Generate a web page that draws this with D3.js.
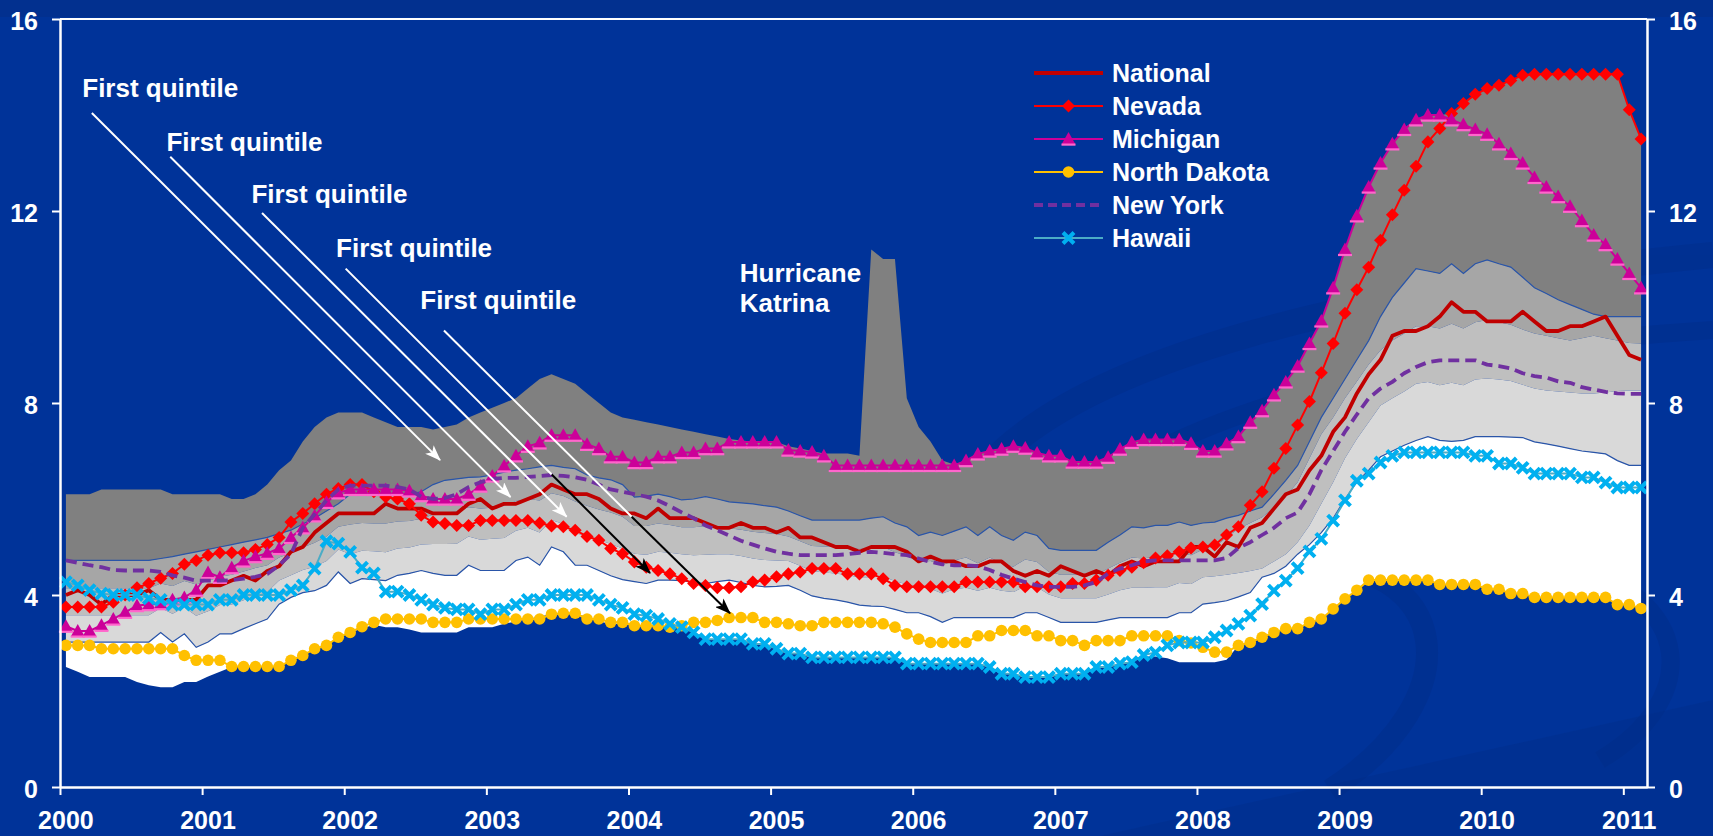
<!DOCTYPE html>
<html>
<head>
<meta charset="utf-8">
<script src="https://cdn.jsdelivr.net/npm/d3@7/dist/d3.min.js"></script>
<style>
  html, body { margin: 0; padding: 0; background: #003399; }
  svg { display: block; }
  text { font-family: "Liberation Sans", Arial, sans-serif; font-weight: bold; }
</style>
</head>
<body>
<div id="chart"></div>
<script>
// monthly data, Jan 2000 .. Feb 2011 (unemployment rate, %)
const years = ["2000","2001","2002","2003","2004","2005","2006","2007","2008","2009","2010","2011"];
const yTicks = [0, 4, 8, 12, 16];

const national = [
  4.0,4.1,4.0,3.8,4.0,4.0,4.0,4.1,3.9,3.9,3.9,3.9,
  4.2,4.2,4.3,4.4,4.3,4.5,4.6,4.9,5.0,5.3,5.5,5.7,
  5.7,5.7,5.7,5.9,5.8,5.8,5.8,5.7,5.7,5.7,5.9,6.0,
  5.8,5.9,5.9,6.0,6.1,6.3,6.2,6.1,6.1,6.0,5.8,5.7,
  5.7,5.6,5.8,5.6,5.6,5.6,5.5,5.4,5.4,5.5,5.4,5.4,
  5.3,5.4,5.2,5.2,5.1,5.0,5.0,4.9,5.0,5.0,5.0,4.9,
  4.7,4.8,4.7,4.7,4.6,4.6,4.7,4.7,4.5,4.4,4.5,4.4,
  4.6,4.5,4.4,4.5,4.4,4.6,4.7,4.6,4.7,4.7,4.7,5.0,
  5.0,4.8,5.1,5.0,5.4,5.5,5.8,6.1,6.2,6.6,6.9,7.4,
  7.7,8.2,8.6,8.9,9.4,9.5,9.5,9.6,9.8,10.1,9.9,9.9,
  9.7,9.7,9.7,9.9,9.7,9.5,9.5,9.6,9.6,9.7,9.8,9.4,
  9.0,8.9];
const nevada = [
  3.75,3.75,3.75,3.75,3.85,4.0,4.15,4.24,4.35,4.45,4.64,4.72,
  4.83,4.88,4.88,4.88,4.95,5.05,5.2,5.52,5.7,5.9,6.1,6.22,
  6.3,6.3,6.15,6.04,6.0,5.9,5.66,5.52,5.49,5.45,5.45,5.55,
  5.55,5.55,5.55,5.55,5.5,5.44,5.42,5.35,5.22,5.14,4.97,4.86,
  4.69,4.58,4.51,4.44,4.34,4.24,4.2,4.15,4.15,4.17,4.27,4.31,
  4.38,4.44,4.48,4.55,4.55,4.55,4.44,4.44,4.44,4.34,4.2,4.17,
  4.17,4.17,4.17,4.17,4.27,4.27,4.27,4.27,4.27,4.17,4.17,4.17,
  4.17,4.24,4.24,4.31,4.41,4.51,4.58,4.67,4.77,4.82,4.9,4.98,
  5.0,5.04,5.25,5.42,5.87,6.15,6.64,7.05,7.54,8.03,8.63,9.24,
  9.87,10.36,10.83,11.39,11.92,12.43,12.93,13.44,13.72,14.03,14.24,14.43,
  14.55,14.62,14.72,14.83,14.85,14.85,14.85,14.85,14.85,14.85,14.85,14.85,
  14.11,13.5];
const michigan = [
  3.35,3.25,3.25,3.37,3.5,3.64,3.78,3.8,3.82,3.9,3.95,4.1,
  4.47,4.37,4.57,4.71,4.8,4.87,4.97,5.2,5.4,5.65,5.93,6.13,
  6.2,6.2,6.2,6.2,6.2,6.17,6.07,6.0,6.0,6.0,6.1,6.27,
  6.48,6.69,6.9,7.1,7.17,7.33,7.33,7.33,7.14,7.05,6.88,6.88,
  6.76,6.76,6.88,6.88,6.97,6.97,7.05,7.05,7.19,7.19,7.19,7.19,
  7.19,7.02,7.0,6.98,6.9,6.7,6.7,6.7,6.7,6.7,6.7,6.7,
  6.7,6.7,6.7,6.7,6.8,6.94,7.0,7.04,7.1,7.06,6.96,6.9,
  6.9,6.77,6.77,6.77,6.87,7.04,7.18,7.24,7.24,7.24,7.24,7.16,
  7.0,7.0,7.15,7.3,7.6,7.84,8.17,8.44,8.77,9.24,9.71,10.4,
  11.2,11.9,12.5,13.0,13.4,13.7,13.9,14.0,14.0,13.9,13.8,13.7,
  13.6,13.4,13.2,13.0,12.7,12.5,12.3,12.1,11.8,11.5,11.3,11.0,
  10.7,10.4];
const northDakota = [
  2.95,2.95,2.95,2.88,2.88,2.88,2.88,2.88,2.88,2.88,2.74,2.64,
  2.64,2.64,2.51,2.51,2.51,2.51,2.51,2.64,2.74,2.88,2.95,3.12,
  3.22,3.34,3.43,3.5,3.5,3.5,3.5,3.43,3.43,3.43,3.5,3.5,
  3.5,3.5,3.5,3.5,3.5,3.6,3.62,3.62,3.5,3.5,3.43,3.43,
  3.36,3.36,3.36,3.33,3.36,3.43,3.43,3.47,3.53,3.53,3.53,3.43,
  3.43,3.4,3.36,3.36,3.43,3.43,3.43,3.43,3.43,3.4,3.33,3.19,
  3.08,3.01,3.01,3.01,3.01,3.15,3.15,3.26,3.26,3.26,3.15,3.15,
  3.05,3.05,2.95,3.05,3.05,3.05,3.15,3.15,3.15,3.15,3.05,3.0,
  2.91,2.81,2.81,2.95,3.01,3.12,3.22,3.3,3.3,3.43,3.5,3.71,
  3.92,4.1,4.31,4.31,4.31,4.31,4.31,4.31,4.22,4.22,4.22,4.22,
  4.12,4.12,4.03,4.03,3.95,3.95,3.95,3.95,3.95,3.95,3.95,3.8,
  3.8,3.72];
const newYork = [
  4.72,4.67,4.62,4.58,4.52,4.51,4.51,4.51,4.48,4.41,4.36,4.3,
  4.3,4.3,4.31,4.34,4.38,4.44,4.62,4.85,5.4,5.68,5.97,6.2,
  6.28,6.28,6.28,6.28,6.25,6.2,6.05,6.0,6.02,6.1,6.25,6.35,
  6.42,6.44,6.44,6.46,6.48,6.5,6.48,6.45,6.4,6.3,6.2,6.15,
  6.1,6.05,5.97,5.85,5.72,5.6,5.45,5.35,5.24,5.13,5.05,4.97,
  4.9,4.86,4.83,4.83,4.83,4.83,4.85,4.88,4.9,4.88,4.85,4.83,
  4.76,4.69,4.64,4.62,4.62,4.6,4.52,4.42,4.34,4.27,4.2,4.17,
  4.17,4.17,4.2,4.27,4.45,4.55,4.62,4.7,4.72,4.72,4.72,4.72,
  4.72,4.72,4.77,4.98,5.1,5.25,5.4,5.6,5.72,6.1,6.6,7.0,
  7.4,7.76,8.1,8.3,8.44,8.62,8.75,8.85,8.89,8.89,8.89,8.89,
  8.8,8.77,8.72,8.62,8.56,8.53,8.45,8.42,8.33,8.28,8.23,8.2,
  8.19,8.19];
const hawaii = [
  4.27,4.2,4.1,4.03,4.0,4.0,4.0,3.93,3.9,3.8,3.8,3.8,
  3.8,3.9,3.9,4.0,4.0,4.0,4.0,4.1,4.2,4.55,5.12,5.07,
  4.9,4.57,4.45,4.07,4.07,4.0,3.9,3.8,3.73,3.7,3.7,3.6,
  3.7,3.7,3.8,3.9,3.9,4.0,4.0,4.0,4.0,3.9,3.8,3.73,
  3.6,3.57,3.5,3.4,3.33,3.22,3.08,3.08,3.08,3.08,2.98,2.98,
  2.88,2.78,2.78,2.7,2.7,2.7,2.7,2.7,2.7,2.7,2.7,2.57,
  2.57,2.57,2.57,2.57,2.57,2.57,2.5,2.36,2.36,2.29,2.29,2.29,
  2.36,2.36,2.36,2.5,2.5,2.57,2.6,2.75,2.8,2.95,3.01,3.01,
  3.01,3.12,3.26,3.4,3.57,3.81,4.09,4.3,4.56,4.91,5.17,5.55,
  5.97,6.38,6.53,6.76,6.9,6.97,6.97,6.97,6.97,6.97,6.97,6.9,
  6.9,6.74,6.74,6.65,6.53,6.53,6.53,6.53,6.45,6.45,6.34,6.24,
  6.24,6.24];

// distribution of state rates: maximum, quintile bounds, minimum
const stateMax = [
  6.1,6.1,6.1,6.2,6.2,6.2,6.2,6.2,6.2,6.1,6.1,6.1,
  6.1,6.1,6.0,6.0,6.1,6.3,6.6,6.8,7.2,7.5,7.7,7.8,
  7.8,7.8,7.7,7.6,7.5,7.5,7.5,7.45,7.5,7.55,7.7,7.8,
  7.9,8.0,8.1,8.3,8.5,8.6,8.5,8.4,8.2,8.0,7.8,7.7,
  7.65,7.6,7.55,7.5,7.45,7.4,7.35,7.3,7.25,7.22,7.2,7.2,
  7.19,7.1,7.05,7.0,6.95,6.95,6.95,6.9,11.2,11.0,11.0,8.1,
  7.5,7.2,6.8,6.72,6.8,6.94,7.0,7.04,7.1,7.06,6.96,6.9,
  6.9,6.77,6.77,6.77,6.87,7.04,7.18,7.24,7.24,7.24,7.24,7.16,
  7.0,7.0,7.15,7.3,7.6,7.84,8.17,8.44,8.77,9.24,9.71,10.4,
  11.2,11.9,12.5,13.0,13.4,13.7,13.9,14.0,14.0,14.03,14.24,14.43,
  14.55,14.62,14.72,14.83,14.85,14.85,14.85,14.85,14.85,14.85,14.85,14.85,
  14.11,13.5];
const quint4 = [
  4.72,4.72,4.72,4.72,4.72,4.72,4.72,4.72,4.76,4.8,4.85,4.9,
  4.95,5.0,5.05,5.1,5.15,5.2,5.28,5.35,5.48,5.6,5.75,5.9,
  6.1,6.1,6.1,6.1,6.1,6.1,6.15,6.3,6.39,6.42,6.45,6.46,
  6.5,6.56,6.6,6.63,6.67,6.7,6.66,6.63,6.5,6.44,6.4,6.3,
  6.04,6.06,6.1,6.05,5.98,6.0,6.05,6.0,5.94,5.92,5.9,5.86,
  5.83,5.75,5.65,5.56,5.56,5.56,5.56,5.56,5.6,5.63,5.5,5.42,
  5.24,5.31,5.24,5.33,5.42,5.24,5.42,5.24,5.14,5.31,5.24,4.97,
  4.93,4.93,4.93,4.93,5.1,5.25,5.42,5.4,5.45,5.45,5.52,5.45,
  5.5,5.52,5.6,5.66,5.75,5.83,6.1,6.39,6.7,7.2,7.7,8.1,
  8.5,8.9,9.3,9.8,10.2,10.5,10.8,10.75,10.7,10.9,10.7,10.9,
  10.98,10.9,10.83,10.62,10.4,10.28,10.15,10.05,9.95,9.85,9.8,9.8,
  9.8,9.8];
const quint3 = [
  4.14,4.14,4.14,4.14,4.14,4.14,4.14,4.14,4.24,4.19,4.29,4.22,
  4.29,4.38,4.42,4.49,4.56,4.62,4.78,4.87,4.99,5.09,5.22,5.42,
  5.47,5.5,5.49,5.49,5.53,5.54,5.59,5.67,5.72,5.74,5.83,5.8,
  5.82,5.86,5.96,6.0,5.97,6.12,6.06,5.95,5.86,5.78,5.72,5.63,
  5.44,5.44,5.49,5.46,5.41,5.41,5.43,5.42,5.39,5.36,5.32,5.29,
  5.27,5.22,5.12,5.02,5.01,5.0,4.98,4.96,4.98,5.0,4.89,4.81,
  4.69,4.71,4.62,4.72,4.78,4.66,4.78,4.66,4.59,4.74,4.69,4.48,
  4.42,4.42,4.42,4.42,4.55,4.67,4.78,4.76,4.8,4.8,4.88,4.83,
  4.95,5.0,5.2,5.38,5.5,5.62,5.82,6.05,6.35,6.85,7.35,7.7,
  8.1,8.45,8.8,9.1,9.3,9.45,9.6,9.6,9.55,9.65,9.55,9.68,
  9.73,9.68,9.63,9.53,9.45,9.4,9.35,9.3,9.35,9.4,9.35,9.3,
  9.25,9.24];
const quint2 = [
  3.58,3.58,3.58,3.58,3.58,3.58,3.58,3.58,3.73,3.61,3.74,3.57,
  3.66,3.79,3.8,3.89,3.98,4.06,4.3,4.41,4.52,4.59,4.71,4.95,
  4.85,4.92,4.91,4.89,4.97,4.99,5.05,5.06,5.06,5.07,5.22,5.15,
  5.17,5.19,5.34,5.4,5.3,5.56,5.48,5.28,5.24,5.15,5.06,4.97,
  4.86,4.84,4.9,4.88,4.85,4.83,4.84,4.85,4.85,4.81,4.76,4.73,
  4.72,4.71,4.61,4.5,4.47,4.45,4.41,4.37,4.37,4.38,4.29,4.22,
  4.16,4.13,4.03,4.12,4.15,4.09,4.15,4.09,4.06,4.18,4.16,4.01,
  3.93,3.93,3.93,3.93,4.01,4.1,4.15,4.15,4.16,4.16,4.25,4.23,
  4.37,4.39,4.42,4.46,4.5,4.55,4.7,4.85,5.1,5.45,5.9,6.35,
  6.85,7.25,7.6,7.95,8.1,8.24,8.4,8.44,8.37,8.42,8.37,8.49,
  8.51,8.49,8.46,8.38,8.3,8.26,8.24,8.22,8.2,8.2,8.22,8.25,
  8.26,8.26];
const quint1 = [
  3.02,3.02,3.02,3.02,3.02,3.02,3.02,3.02,3.22,3.02,3.19,2.91,
  3.02,3.19,3.19,3.3,3.4,3.5,3.81,3.95,4.05,4.09,4.2,4.48,
  4.24,4.34,4.32,4.3,4.41,4.45,4.51,4.45,4.41,4.41,4.62,4.51,
  4.51,4.51,4.72,4.79,4.62,5.0,4.9,4.62,4.62,4.51,4.4,4.32,
  4.28,4.24,4.31,4.31,4.3,4.26,4.24,4.28,4.31,4.26,4.2,4.17,
  4.18,4.2,4.1,3.98,3.93,3.9,3.85,3.79,3.77,3.76,3.7,3.63,
  3.63,3.55,3.43,3.53,3.53,3.53,3.53,3.53,3.53,3.63,3.63,3.53,
  3.43,3.43,3.43,3.43,3.48,3.53,3.53,3.53,3.53,3.53,3.63,3.63,
  3.81,3.84,3.88,3.96,4.05,4.37,4.45,4.6,4.85,5.05,5.3,5.6,
  6.0,6.35,6.6,6.88,7.0,7.12,7.22,7.3,7.22,7.2,7.22,7.3,
  7.3,7.3,7.29,7.28,7.19,7.15,7.1,7.05,7.0,6.97,6.94,6.8,
  6.7,6.7];
const stateMin = [
  2.5,2.4,2.29,2.29,2.29,2.29,2.19,2.12,2.08,2.08,2.19,2.19,
  2.3,2.4,2.5,2.5,2.5,2.5,2.5,2.64,2.74,2.88,2.95,3.12,
  3.22,3.3,3.38,3.33,3.33,3.28,3.22,3.22,3.22,3.22,3.33,3.33,
  3.33,3.4,3.45,3.5,3.55,3.6,3.6,3.6,3.55,3.45,3.4,3.4,
  3.36,3.36,3.36,3.33,3.33,3.22,3.08,3.08,3.08,3.08,2.98,2.98,
  2.88,2.78,2.78,2.7,2.7,2.7,2.7,2.7,2.7,2.7,2.7,2.57,
  2.57,2.57,2.57,2.57,2.57,2.57,2.5,2.36,2.36,2.29,2.29,2.29,
  2.36,2.36,2.36,2.5,2.5,2.57,2.6,2.72,2.72,2.68,2.6,2.6,
  2.6,2.6,2.65,2.95,3.01,3.12,3.22,3.3,3.3,3.43,3.5,3.71,
  3.92,4.1,4.31,4.31,4.31,4.31,4.31,4.31,4.22,4.22,4.22,4.22,
  4.12,4.12,4.03,4.03,3.95,3.95,3.95,3.95,3.95,3.95,3.95,3.8,
  3.8,3.72];

// annotations, in (month index, rate)
const noteText = ["First quintile","First quintile","First quintile","First quintile","First quintile"];
const notePos = [[1.38,14.38],[8.49,13.26],[15.66,12.16],[22.81,11.04],[29.92,9.95]];
const arrows = [
  { from: [2.19,14.04], to: [31.59,6.81], color: "#fff", head: true },
  { from: [8.81,13.13], to: [37.54,6.04], color: "#fff", head: true },
  { from: [16.56,11.96], to: [42.28,5.63], color: "#fff", head: true },
  { from: [23.62,10.8], to: [41.02,6.51], color: "#fff", head: false },
  { from: [41.02,6.51], to: [49.32,4.46], color: "#000", head: true },
  { from: [31.92,9.51], to: [47.77,5.63], color: "#fff", head: false },
  { from: [47.77,5.63], to: [56.07,3.62], color: "#000", head: true }
];
const katrinaText = ["Hurricane", "Katrina"];
const katrinaPos = [56.9, 10.52];

var W = 1713, H = 836;
var padL = 60, padR = 1647, padT = 19, padB = 787;
var n = national.length;

var svg = d3.select("#chart").append("svg")
  .attr("width", W).attr("height", H);

// background + swooshes
svg.append("rect").attr("width", W).attr("height", H).attr("fill", "#003399");
svg.append("rect").attr("width", W).attr("height", 17).attr("fill", "#02308f");
var deco = svg.append("g").attr("fill", "none").attr("stroke", "#002c86").attr("opacity", 0.4);
deco.append("path").attr("d", "M985,470 C1080,360 1350,290 1713,255").attr("stroke-width", 26);
deco.append("path").attr("d", "M1060,520 C1150,420 1400,350 1713,330").attr("stroke-width", 18);
deco.append("path").attr("d", "M1290,560 C1460,560 1470,700 1330,790").attr("stroke-width", 22);
deco.append("path").attr("d", "M1560,560 C1700,600 1700,700 1600,760").attr("stroke-width", 18);
svg.append("path").attr("d", "M1100,836 L1713,700 L1713,836 Z").attr("fill", "#002c86").attr("opacity", 0.4);

var x = d3.scaleLinear().domain([-0.5, n - 0.5]).range([padL, padR]);
var y = d3.scaleLinear().domain([0, 16]).range([padB, padT]);

// quintile bands
var bands = [
  { hi: stateMax, lo: quint4, fill: "#808080" },
  { hi: quint4, lo: quint3, fill: "#a6a6a6" },
  { hi: quint3, lo: quint2, fill: "#bfbfbf" },
  { hi: quint2, lo: quint1, fill: "#d9d9d9" },
  { hi: quint1, lo: stateMin, fill: "#ffffff" }
];
var area = d3.area()
  .x(function (d, i) { return x(i); })
  .y0(function (d) { return y(d[0]); })
  .y1(function (d) { return y(d[1]); });
bands.forEach(function (b) {
  svg.append("path")
    .datum(b.lo.map(function (v, i) { return [v, b.hi[i]]; }))
    .attr("fill", b.fill)
    .attr("d", area);
});
var line = d3.line()
  .x(function (d, i) { return x(i); })
  .y(function (d) { return y(d); });
[quint4, quint1].forEach(function (q) {
  svg.append("path").datum(q).attr("fill", "none")
    .attr("stroke", "#2a55a8").attr("stroke-width", 1.2).attr("d", line);
});

// state and national series
var series = [
  { name: "National", data: national, color: "#c00000", width: 3.8, marker: null },
  { name: "Nevada", data: nevada, color: "#ff0000", width: 2, marker: "diamond", mcolor: "#ff0000" },
  { name: "Michigan", data: michigan, color: "#cc0099", width: 2, marker: "triangle", mcolor: "#cc0099" },
  { name: "North Dakota", data: northDakota, color: "#ffc000", width: 2, marker: "circle", mcolor: "#ffc000" },
  { name: "New York", data: newYork, color: "#7030a0", width: 3.8, dash: "11,6", marker: null },
  { name: "Hawaii", data: hawaii, color: "#4bacc6", width: 2, marker: "x", mcolor: "#00b0f0" }
];

function drawMarker(g, type, color) {
  if (type === "diamond") {
    g.append("rect").attr("x", -4.6).attr("y", -4.6).attr("width", 9.2).attr("height", 9.2)
      .attr("transform", "rotate(45)").attr("fill", color);
  } else if (type === "triangle") {
    g.append("path").attr("d", "M0,-7L7,5.5L-7,5.5Z").attr("fill", color);
    g.append("rect").attr("x", -7).attr("y", 4.5).attr("width", 14).attr("height", 2.2).attr("fill", "#ff66cc");
  } else if (type === "circle") {
    g.append("circle").attr("r", 5.8).attr("fill", color);
  } else if (type === "x") {
    g.append("path").attr("d", "M-5.5,-5.5L5.5,5.5M-5.5,5.5L5.5,-5.5")
      .attr("stroke", color).attr("stroke-width", 4).attr("fill", "none");
  }
}

series.forEach(function (s) {
  var p = svg.append("path").datum(s.data)
    .attr("fill", "none")
    .attr("stroke", s.color)
    .attr("stroke-width", s.width)
    .attr("stroke-linejoin", "round")
    .attr("d", line);
  if (s.dash) p.attr("stroke-dasharray", s.dash);
  if (s.marker) {
    svg.append("g").selectAll("g").data(s.data).enter().append("g")
      .attr("transform", function (d, i) { return "translate(" + x(i) + "," + y(d) + ")"; })
      .each(function () { drawMarker(d3.select(this), s.marker, s.mcolor); });
  }
});

// axes
var yearIdx = years.map(function (d, i) { return i * 12; });
var xAxis = d3.axisBottom(x).tickValues(yearIdx.map(function (i) { return i - 0.5; }))
  .tickFormat("").tickSize(8).tickSizeOuter(0);
var gx = svg.append("g").attr("transform", "translate(0," + padB + ")").call(xAxis);
gx.selectAll("line").attr("stroke", "#fff").attr("stroke-width", 2);
gx.select(".domain").attr("stroke", "#fff").attr("stroke-width", 2.5);

svg.append("g").selectAll("text").data(years).enter().append("text")
  .attr("x", function (d, i) { return x(yearIdx[i]); })
  .attr("y", 829)
  .attr("text-anchor", "middle")
  .attr("fill", "#fff")
  .attr("font-size", 25)
  .text(function (d) { return d; });

function styleY(g) {
  g.selectAll("line").attr("stroke", "#fff").attr("stroke-width", 2);
  g.select(".domain").attr("stroke", "#fff").attr("stroke-width", 2.5);
  g.selectAll("text").attr("fill", "#fff").attr("font-size", 25)
    .attr("font-family", "Liberation Sans, Arial, sans-serif").attr("font-weight", "bold")
    .attr("dy", "0.4em");
}
var gyl = svg.append("g").attr("transform", "translate(" + padL + ",0)")
  .call(d3.axisLeft(y).tickValues(yTicks).tickSize(8).tickSizeOuter(0).tickPadding(14));
styleY(gyl);
var gyr = svg.append("g").attr("transform", "translate(" + padR + ",0)")
  .call(d3.axisRight(y).tickValues(yTicks).tickSize(8).tickSizeOuter(0).tickPadding(14));
styleY(gyr);
svg.append("line").attr("x1", padL).attr("x2", padR).attr("y1", padT).attr("y2", padT)
  .attr("stroke", "#fff").attr("stroke-width", 2);

// annotations
var defs = svg.append("defs");
["#fff", "#000"].forEach(function (c, i) {
  defs.append("marker").attr("id", "head" + i)
    .attr("markerUnits", "userSpaceOnUse")
    .attr("markerWidth", 16).attr("markerHeight", 12)
    .attr("refX", 15).attr("refY", 6).attr("orient", "auto")
    .append("path").attr("d", "M0,0L16,6L0,12L4,6Z").attr("fill", c);
});
arrows.forEach(function (a) {
  var l = svg.append("line")
    .attr("x1", x(a.from[0])).attr("y1", y(a.from[1]))
    .attr("x2", x(a.to[0])).attr("y2", y(a.to[1]))
    .attr("stroke", a.color).attr("stroke-width", 2);
  if (a.head) l.attr("marker-end", "url(#head" + (a.color === "#fff" ? 0 : 1) + ")");
});
svg.append("g").selectAll("text").data(noteText).enter().append("text")
  .attr("x", function (d, i) { return x(notePos[i][0]); })
  .attr("y", function (d, i) { return y(notePos[i][1]); })
  .attr("fill", "#fff").attr("font-size", 26)
  .text(function (d) { return d; });
svg.append("g").selectAll("text").data(katrinaText).enter().append("text")
  .attr("x", x(katrinaPos[0]))
  .attr("y", function (d, i) { return y(katrinaPos[1]) + i * 30; })
  .attr("fill", "#fff").attr("font-size", 26)
  .text(function (d) { return d; });

// legend
var lg = svg.append("g").attr("transform", "translate(1034,73)");
var item = lg.selectAll("g").data(series).enter().append("g")
  .attr("transform", function (d, i) { return "translate(0," + i * 33 + ")"; });
item.append("line").attr("x1", 0).attr("x2", 69)
  .attr("stroke", function (d) { return d.color; })
  .attr("stroke-width", function (d) { return d.width; })
  .attr("stroke-dasharray", function (d) { return d.dash ? "9,5" : null; });
item.each(function (d) {
  if (d.marker) {
    var m = d3.select(this).append("g").attr("transform", "translate(34.5,0)");
    drawMarker(m, d.marker, d.mcolor);
  }
});
item.append("text").attr("x", 78).attr("dy", "0.36em")
  .attr("fill", "#fff").attr("font-size", 25)
  .text(function (d) { return d.name; });
</script>
</body>
</html>
